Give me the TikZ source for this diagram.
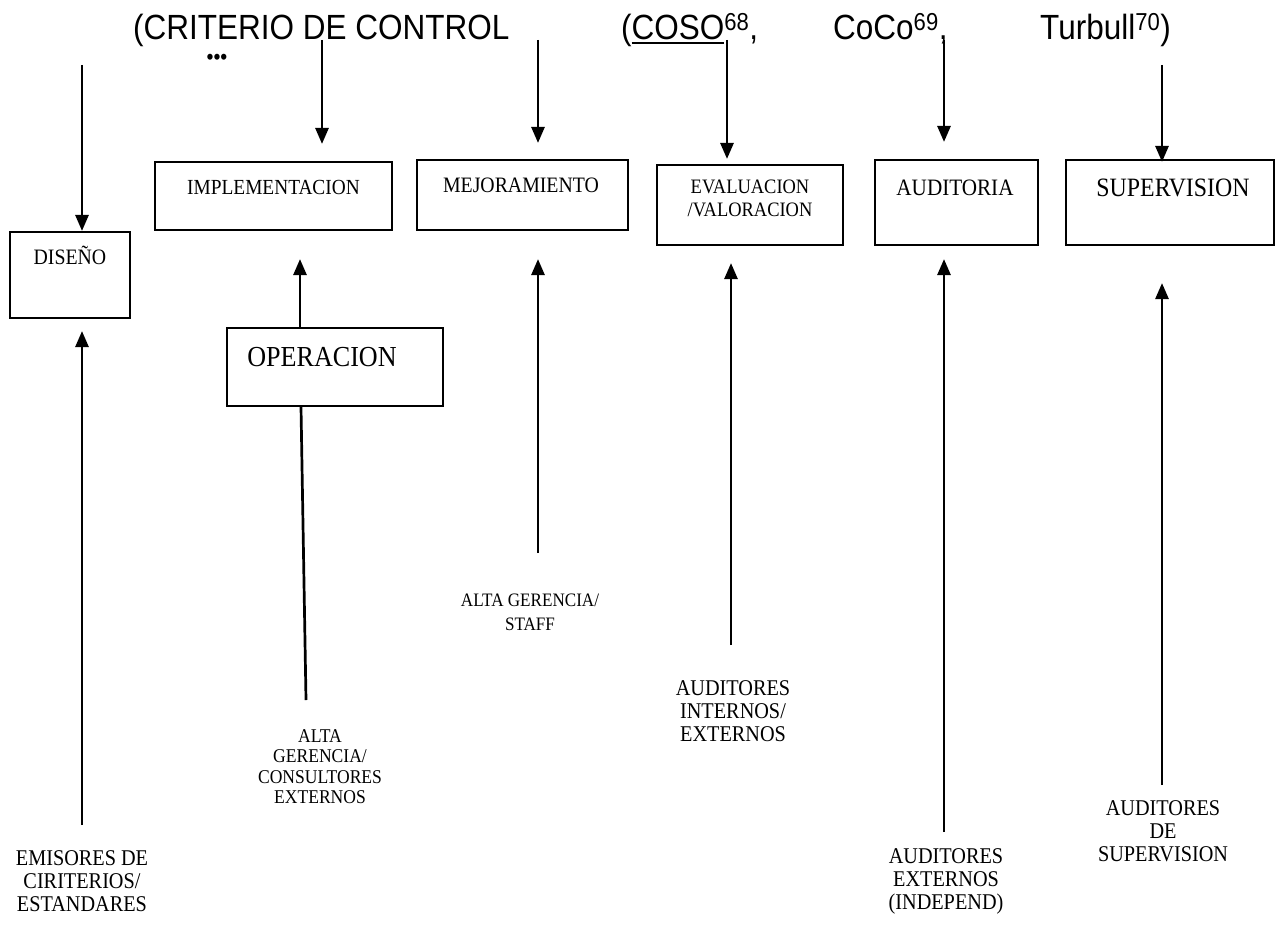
\documentclass[tikz,border=0pt]{standalone}
\usepackage{fontspec}
\setmainfont{Liberation Serif}[FakeStretch=0.9]
\newfontfamily\titlefont{Liberation Sans}[FakeStretch=0.9]
\usetikzlibrary{arrows.meta}

% heavy underline for the heading
\newcommand\heavyul[1]{\setbox0\hbox{#1}\rlap{\rule[-4.5pt]{\wd0}{2pt}}\box0}

\tikzset{
  box/.style={draw, line width=2.1pt, inner sep=0pt},
  conn/.style={line width=2.7pt},
  arr/.style={conn, -{Triangle[length=16pt,width=13pt]}},
  boxtxt/.style={anchor=base, inner sep=0pt},
  lbl/.style={anchor=north, align=center, inner sep=0pt},
  ttl/.style={anchor=base west, inner sep=0pt, font=\titlefont\fontsize{35}{40}\selectfont},
}

\begin{document}
\begin{tikzpicture}[x=1pt,y=-1pt]
\fill[white] (0,0) rectangle (1284,942);
\useasboundingbox (0,0) rectangle (1284,942);

% heading
\node[ttl] (t1) at (133,40) {(CRITERIO DE CONTROL};
\node[ttl] (t2) at (621,40) {(\heavyul{COSO}\textsuperscript{68},};
\node[ttl] (t3) at (833,40) {CoCo\textsuperscript{69},};
\node[ttl] (t4) at (1040,40) {Turbull\textsuperscript{70})};
\node[anchor=base, inner sep=0pt, font=\titlefont\fontsize{22}{24}\selectfont] (dots) at (217,64) {•••};

% stage boxes
\node[box, minimum width=120pt, minimum height=86pt] (dis) at (70,275) {};
\node[box, minimum width=237pt, minimum height=68pt] (imp) at (273.5,196) {};
\node[box, minimum width=211pt, minimum height=70pt] (mej) at (522.5,195) {};
\node[box, minimum width=186pt, minimum height=80pt] (eva) at (750,205) {};
\node[box, minimum width=163pt, minimum height=85pt] (aud) at (956.5,202.5) {};
\node[box, minimum width=208pt, minimum height=85pt] (sup) at (1170,202.5) {};
\node[box, minimum width=216pt, minimum height=78pt] (ope) at (335,367) {};

% box captions
\node[boxtxt, font=\fontsize{22}{24}\selectfont] (disT) at (70,264) {DISEÑO};
\node[boxtxt, font=\fontsize{21.5}{24}\selectfont] (impT) at (273.5,194) {IMPLEMENTACION};
\node[boxtxt, font=\fontsize{22}{24}\selectfont] (mejT) at (521,192) {MEJORAMIENTO};
\node[lbl, font=\fontsize{20.5}{23}\selectfont] (evaT) at (750,180) {EVALUACION\\/VALORACION};
\node[boxtxt, font=\fontsize{23.5}{26}\selectfont] (audT) at (955,195) {AUDITORIA};
\node[boxtxt, font=\fontsize{26.5}{28}\selectfont] (supT) at (1173,196) {SUPERVISION};
\node[boxtxt, font=\fontsize{29}{32}\selectfont] (opeT) at (322,366) {OPERACION};

% actor captions
\node[lbl, font=\fontsize{22.5}{23}\selectfont] (emi) at (82,850) {EMISORES DE\\CIRITERIOS/\\ESTANDARES};
\node[lbl, font=\fontsize{19.5}{20.5}\selectfont] (con) at (320,729) {ALTA\\GERENCIA/\\CONSULTORES\\EXTERNOS};
\node[lbl, font=\fontsize{19}{24}\selectfont] (sta) at (530,594) {ALTA GERENCIA/\\STAFF};
\node[lbl, font=\fontsize{22.5}{23}\selectfont] (ain) at (733,680) {AUDITORES\\INTERNOS/\\EXTERNOS};
\node[lbl, font=\fontsize{22.5}{23}\selectfont] (aex) at (946,848) {AUDITORES\\EXTERNOS\\(INDEPEND)};
\node[lbl, font=\fontsize{22.5}{23}\selectfont] (asu) at (1163,800) {AUDITORES\\DE\\SUPERVISION};

% downward arrows from the heading
\coordinate (d1) at (82,65);
\coordinate (d2) at (322,40);
\coordinate (d3) at (538,40);
\coordinate (d4) at (727,40);
\coordinate (d5) at (944,40);
\coordinate (d6) at (1162,65);
\draw[arr] (d1) -- (d1 |- dis.north);
\draw[arr, shorten >=17pt] (d2) -- (d2 |- imp.north);
\draw[arr, shorten >=16pt] (d3) -- (d3 |- mej.north);
\draw[arr, shorten >=5pt] (d4) -- (d4 |- eva.north);
\draw[arr, shorten >=17pt] (d5) -- (d5 |- aud.north);
\draw[arr, shorten >=-3pt] (d6) -- (d6 |- sup.north);

% upward arrows from the actors
\coordinate (s1) at (82,825);
\coordinate (s3) at (538,553);
\coordinate (s4) at (731,645);
\coordinate (s5) at (944,832);
\coordinate (s6) at (1162,785);
\coordinate (sB) at (306,700);
\draw[arr, shorten >=12pt] (s1) -- (s1 |- dis.south);
\draw[arr, shorten >=28pt] ([xshift=-35pt]ope.north) -- ([xshift=-35pt]ope.north |- imp.south);
\draw[conn] (sB) -- ([xshift=-34pt]ope.south);
\draw[arr, shorten >=28pt] (s3) -- (s3 |- mej.south);
\draw[arr, shorten >=17pt] (s4) -- (s4 |- eva.south);
\draw[arr, shorten >=13pt] (s5) -- (s5 |- aud.south);
\draw[arr, shorten >=37pt] (s6) -- (s6 |- sup.south);
\end{tikzpicture}
\end{document}
